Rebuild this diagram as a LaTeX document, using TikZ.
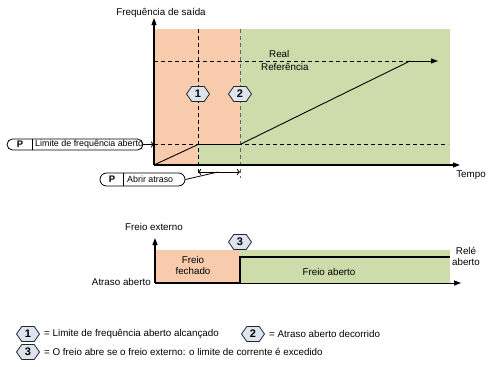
\documentclass[tikz,border=0pt]{standalone}
\usepackage{fontspec}
\setmainfont{Liberation Sans}
\usetikzlibrary{arrows.meta,shapes.symbols,shapes.misc}
\definecolor{orng}{RGB}{248,203,173}
\definecolor{grn}{RGB}{205,220,170}
\definecolor{hexfill}{RGB}{220,228,240}
\begin{document}
\begin{tikzpicture}[x=1pt,y=-1pt,
  font=\fontsize{9.8}{11}\selectfont,
  hexnode/.style={signal, signal to=west and east, signal pointer angle=110,
    draw=black!85, line width=0.8pt, fill=hexfill,
    font=\fontsize{11}{11}\selectfont\bfseries, inner sep=1pt,
    minimum height=15pt, minimum width=23pt},
  axisline/.style={line width=1.2pt, -{Triangle[length=7pt,width=5pt]}},
  thinaxis/.style={line width=0.9pt, -{Triangle[length=7pt,width=5pt]}},
  dashln/.style={dash pattern=on 4pt off 3pt, line width=0.8pt},
  sig/.style={line width=0.9pt},
  pbox/.style={rounded rectangle, draw, line width=0.8pt, inner sep=0pt},
  boxtxt/.style={font=\fontsize{8.9}{10}\selectfont, inner sep=0pt},
  ptxt/.style={font=\fontsize{9.5}{10}\selectfont\bfseries, inner sep=0pt},
  lbl/.style={inner sep=0pt, align=center}]
\useasboundingbox (0,0) rectangle (488,367);

% ---------- upper chart ----------
\fill[orng] (154,29) rectangle (240,165);
\fill[grn] (240,29) rectangle (450,165);
\fill[grn] (198,144) rectangle (240,165);

\draw[dashln] (198,29) -- (198,176);
\draw[dashln, black!60] (240,29) -- (240,178);
\draw[dashln] (154,61) -- (410,61);
\draw[dashln] (154,144.5) -- (448,144.5);

\coordinate (o1) at (154,165);
\coordinate (ytop) at (154,18);
\coordinate (xend) at (460,165);
\draw[axisline] (o1) -- (ytop);
\draw[axisline] (o1) -- (xend);

\coordinate (r1) at (198,144.5);
\coordinate (r2) at (240,144.5);
\coordinate (r3) at (410,61);
\coordinate (r4) at (438,61);
\draw[sig] (o1) -- (r1) -- (r2) -- (r3);
\draw[sig, -{Triangle[length=7pt,width=5pt]}] (r3) -- (r4);

\node[lbl] (ytitle) at (161,13) {Frequência de saída};
\node[lbl] (tempo) at (471,175) {Tempo};
\node[lbl, anchor=west] (real) at (269,54) {Real};
\node[lbl, anchor=west] (refer) at (261,67) {Referência};

\node[hexnode] (h1) at (198,94) {1};
\node[hexnode] (h2) at (240,94) {2};

% P box 1
\node[pbox, minimum width=136pt, minimum height=11pt] (pb1) at (75,144.5) {};
\draw[line width=0.8pt] (32,139) -- (32,150);
\node[ptxt] (p1) at (20,144.5) {P};
\node[boxtxt, anchor=west] (pb1t) at (35,144.5) {Limite de frequência aberto};
\coordinate (ya) at (154,144.5);
\draw[line width=0.8pt, -{To[length=3pt,width=6pt]}] (pb1.east) -- (ya);

% P box 2
\node[pbox, minimum width=85pt, minimum height=13pt] (pb2) at (142.5,179.5) {};
\draw[line width=0.8pt] (123,173) -- (123,186);
\node[ptxt] (p2) at (112,179.5) {P};
\node[boxtxt, anchor=west] (pb2t) at (127,179.5) {Abrir atraso};
\coordinate (d1) at (198,172);
\coordinate (d2) at (240,172);
\coordinate (dm) at (218,172);
\draw[line width=0.8pt, {To[length=3pt,width=6pt]}-{To[length=3pt,width=6pt]}] (d1) -- (d2);
\draw[line width=0.8pt] (pb2.east) -- (dm);

% ---------- lower chart ----------
\fill[orng] (155,250) rectangle (240,283);
\fill[grn] (240,250) rectangle (450,283);
\coordinate (o2) at (155,283);
\coordinate (y2top) at (155,238);
\coordinate (x2end) at (461,283);
\draw[axisline] (o2) -- (y2top);
\draw[thinaxis] (o2) -- (x2end);
\draw[line width=2.2pt] (o2) -- (240,283) -- (240,257) -- (450,257);

\node[hexnode] (h3) at (240,242) {3};
\node[lbl] (fext) at (154,227) {Freio externo};
\node[lbl] (ffech) at (193,265.5) {Freio\\fechado};
\node[lbl, anchor=east] (atab) at (151,282) {Atraso aberto};
\node[lbl] (fab) at (329,272) {Freio aberto};
\node[lbl] (rele) at (466,256.5) {Relé\\aberto};

% ---------- legend ----------
\node[hexnode] (l1) at (28,334) {1};
\node[lbl, anchor=west] (l1t) at (44,334) {= Limite de frequência aberto alcançado};
\node[hexnode] (l2) at (253,334) {2};
\node[lbl, anchor=west] (l2t) at (269,334) {= Atraso aberto decorrido};
\node[hexnode] (l3) at (28,352) {3};
\node[lbl, anchor=west] (l3t) at (44,352) {= O freio abre se o freio externo: o limite de corrente é excedido};
\end{tikzpicture}
\end{document}
